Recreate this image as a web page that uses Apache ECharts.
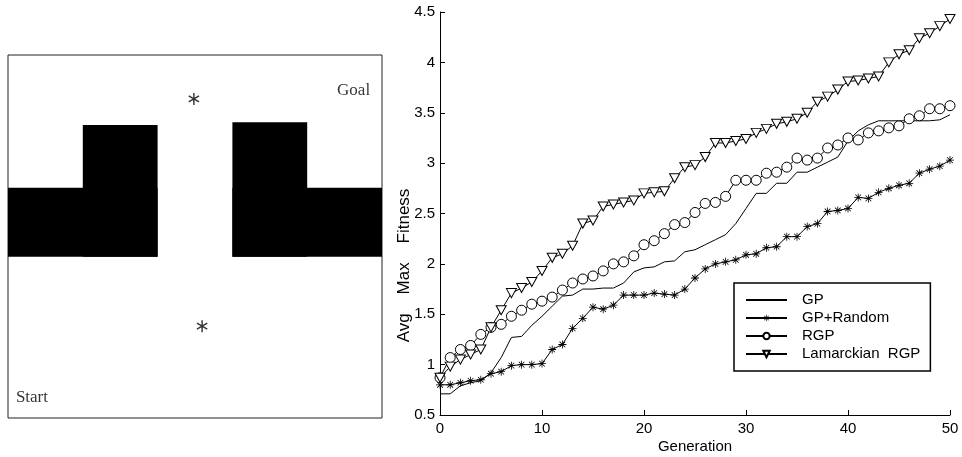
<!DOCTYPE html>
<html>
<head>
<meta charset="utf-8">
<script src="https://cdn.jsdelivr.net/npm/echarts@6/dist/echarts.min.js"></script>
<style>
  html, body { margin: 0; padding: 0; background: #fff; }
  #chart { width: 962px; height: 457px; }
</style>
</head>
<body>
<div id="chart"></div>
<script>
// Generations on the x axis
const generations = [0, 1, 2, 3, 4, 5, 6, 7, 8, 9, 10, 11, 12, 13, 14, 15, 16, 17, 18, 19, 20,
  21, 22, 23, 24, 25, 26, 27, 28, 29, 30, 31, 32, 33, 34, 35, 36, 37, 38, 39, 40,
  41, 42, 43, 44, 45, 46, 47, 48, 49, 50];

// Average max fitness per generation for each method
const gp = [0.71, 0.71, 0.79, 0.82, 0.84, 0.92, 1.07, 1.27, 1.28, 1.39, 1.48,
  1.58, 1.68, 1.69, 1.75, 1.75, 1.76, 1.76, 1.81, 1.92, 1.96,
  1.97, 2.02, 2.03, 2.12, 2.14, 2.19, 2.24, 2.29, 2.40, 2.55,
  2.70, 2.70, 2.80, 2.80, 2.91, 2.91, 2.96, 3.01, 3.06, 3.22,
  3.32, 3.38, 3.42, 3.42, 3.42, 3.42, 3.42, 3.42, 3.43, 3.48];

const gpRandom = [0.80, 0.80, 0.82, 0.84, 0.85, 0.91, 0.93, 0.99, 1.00, 1.00, 1.01,
  1.15, 1.20, 1.36, 1.46, 1.57, 1.55, 1.59, 1.69, 1.69, 1.69,
  1.71, 1.70, 1.69, 1.75, 1.86, 1.95, 2.00, 2.02, 2.04, 2.09,
  2.10, 2.16, 2.17, 2.27, 2.27, 2.37, 2.40, 2.52, 2.53, 2.55,
  2.66, 2.65, 2.71, 2.75, 2.78, 2.80, 2.90, 2.94, 2.97, 3.03];

const rgp = [0.87, 1.07, 1.15, 1.19, 1.30, 1.37, 1.40, 1.48, 1.54, 1.60, 1.63,
  1.67, 1.74, 1.81, 1.85, 1.88, 1.93, 2.00, 2.02, 2.08, 2.19,
  2.23, 2.30, 2.39, 2.41, 2.51, 2.60, 2.61, 2.67, 2.83, 2.83,
  2.83, 2.90, 2.91, 2.96, 3.05, 3.03, 3.05, 3.15, 3.18, 3.25,
  3.23, 3.30, 3.32, 3.35, 3.37, 3.44, 3.47, 3.54, 3.54, 3.57];

const lamarckianRgp = [0.87, 0.98, 1.05, 1.10, 1.15, 1.37, 1.54, 1.71, 1.76, 1.82, 1.93,
  2.06, 2.10, 2.18, 2.40, 2.43, 2.57, 2.59, 2.61, 2.63, 2.70,
  2.71, 2.72, 2.85, 2.96, 2.98, 3.06, 3.20, 3.20, 3.22, 3.24,
  3.30, 3.34, 3.39, 3.41, 3.44, 3.50, 3.61, 3.66, 3.73, 3.81,
  3.82, 3.84, 3.86, 4.00, 4.08, 4.12, 4.24, 4.29, 4.36, 4.43];

const seriesNames = ['GP', 'GP+Random', 'RGP', 'Lamarckian  RGP'];
const yTicks = { min: 0.5, max: 4.5, step: 0.5 };
const xTicks = { min: 0, max: 50, step: 10 };

// Maze world (10 x 10 units): walls as [x0, y0, x1, y1]
const walls = [
  [0, 4.44, 4, 6.34],
  [2, 4.44, 4, 8.07],
  [6, 4.44, 8, 8.15],
  [6, 4.44, 10, 6.34]
];
// Points of interest marked with an asterisk
const mazeMarks = [[4.97, 8.79], [5.19, 2.53]];
// Labelled locations
const mazeLabels = [
  { name: 'Goal', value: [9.24, 9.02] },
  { name: 'Start', value: [0.64, 0.56] }
];

// Asterisk marker (plus and cross) used for GP+Random
const starPath = 'path://M-0.5,-5L0.5,-5L0.5,5L-0.5,5Z' +
  'M-5,-0.5L5,-0.5L5,0.5L-5,0.5Z' +
  'M-3.19,-3.89L3.89,3.19L3.19,3.89L-3.89,-3.19Z' +
  'M-3.19,3.89L-3.89,3.19L3.19,-3.89L3.89,-3.19Z';
// Six-armed asterisk for the maze markers
const sixStarPath = 'path://M0.6,-5L0.6,5L-0.6,5L-0.6,-5Z' +
  'M-4.03,-3.02L4.63,1.98L4.03,3.02L-4.63,-1.98Z' +
  'M4.63,-1.98L-4.03,3.02L-4.63,1.98L4.03,-3.02Z';

function pairs(values) {
  return values.map((v, i) => [generations[i], v]);
}

const font = 'Liberation Sans, Arial, Helvetica, sans-serif';
const serif = 'Liberation Serif, Times New Roman, serif';

const chart = echarts.init(document.getElementById('chart'), null, { renderer: 'canvas' });

const lineBase = {
  type: 'line',
  xAxisIndex: 0,
  yAxisIndex: 0,
  animation: false,
  lineStyle: { color: '#000', width: 1 },
  emphasis: { disabled: true }
};

chart.setOption({
  backgroundColor: '#fff',
  animation: false,
  textStyle: { fontFamily: font, color: '#000' },
  grid: [
    { left: 440, top: 12, width: 510, height: 403, show: false, outerBoundsMode: 'none' },
    { left: 8, top: 55, width: 374, height: 363, show: true, outerBoundsMode: 'none',
      borderColor: '#222', borderWidth: 1, backgroundColor: '#fff' }
  ],
  legend: {
    data: [
      { name: seriesNames[0], itemStyle: { color: 'rgba(0,0,0,0)', borderWidth: 0, opacity: 0 } },
      seriesNames[1],
      seriesNames[2],
      seriesNames[3]
    ],
    orient: 'vertical',
    left: 734,
    top: 283,
    padding: [9, 10, 9, 11],
    itemWidth: 41,
    itemHeight: 8,
    itemGap: 2,
    borderColor: '#000',
    borderWidth: 1.5,
    backgroundColor: '#fff',
    selectedMode: false,
    textStyle: { fontFamily: font, fontSize: 15, color: '#000', lineHeight: 16, padding: [0, 0, 0, 10] }
  },
  xAxis: [
    {
      type: 'value', gridIndex: 0,
      min: xTicks.min, max: xTicks.max, interval: xTicks.step,
      name: 'Generation', nameLocation: 'middle', nameGap: 24,
      nameMoveOverlap: false,
      nameTextStyle: { fontFamily: font, fontSize: 15, color: '#000' },
      axisLine: { show: true, onZero: false, lineStyle: { color: '#000', width: 1 } },
      axisTick: { show: true, inside: true, length: 5, lineStyle: { color: '#000' } },
      axisLabel: { fontFamily: font, fontSize: 15, color: '#000', margin: 6 },
      splitLine: { show: false }
    },
    {
      type: 'value', gridIndex: 1, min: 0, max: 10, show: false
    }
  ],
  yAxis: [
    {
      type: 'value', gridIndex: 0,
      min: yTicks.min, max: yTicks.max, interval: yTicks.step,
      name: 'Avg    Max    Fitness', nameLocation: 'middle', nameGap: 27,
      nameMoveOverlap: false,
      nameTextStyle: { fontFamily: font, fontSize: 17, color: '#000', padding: [0, 104, 0, 0] },
      axisLine: { show: true, onZero: false, lineStyle: { color: '#000', width: 1 } },
      axisTick: { show: true, inside: true, length: 5, lineStyle: { color: '#000' } },
      axisLabel: { fontFamily: font, fontSize: 15, color: '#000', margin: 5 },
      splitLine: { show: false }
    },
    {
      type: 'value', gridIndex: 1, min: 0, max: 10, show: false
    }
  ],
  series: [
    Object.assign({}, lineBase, {
      name: seriesNames[0],
      data: pairs(gp),
      symbol: 'none',
      itemStyle: { color: '#000' }
    }),
    Object.assign({}, lineBase, {
      name: seriesNames[1],
      data: pairs(gpRandom),
      symbol: starPath,
      symbolSize: 8,
      itemStyle: { color: '#000', borderWidth: 0 }
    }),
    Object.assign({}, lineBase, {
      name: seriesNames[2],
      data: pairs(rgp),
      symbol: 'circle',
      symbolSize: 10,
      itemStyle: { color: '#fff', borderColor: '#000', borderWidth: 1 }
    }),
    Object.assign({}, lineBase, {
      name: seriesNames[3],
      data: pairs(lamarckianRgp),
      symbol: 'triangle',
      symbolRotate: 180,
      symbolSize: [10, 9],
      itemStyle: { color: '#fff', borderColor: '#000', borderWidth: 1 }
    }),
    {
      type: 'custom',
      xAxisIndex: 1,
      yAxisIndex: 1,
      silent: true,
      data: walls,
      renderItem: function (params, api) {
        const p0 = api.coord([api.value(0), api.value(3)]);
        const p1 = api.coord([api.value(2), api.value(1)]);
        return {
          type: 'rect',
          shape: { x: p0[0], y: p0[1], width: p1[0] - p0[0], height: p1[1] - p0[1] },
          style: { fill: '#000' }
        };
      }
    },
    {
      type: 'scatter',
      xAxisIndex: 1,
      yAxisIndex: 1,
      silent: true,
      data: mazeMarks,
      symbol: sixStarPath,
      symbolSize: [11, 12],
      itemStyle: { color: '#000' }
    },
    {
      type: 'scatter',
      xAxisIndex: 1,
      yAxisIndex: 1,
      silent: true,
      data: mazeLabels,
      symbolSize: 0,
      label: {
        show: true,
        position: 'inside',
        formatter: '{b}',
        fontFamily: serif,
        fontSize: 17,
        color: '#000'
      }
    }
  ]
});
</script>
</body>
</html>
